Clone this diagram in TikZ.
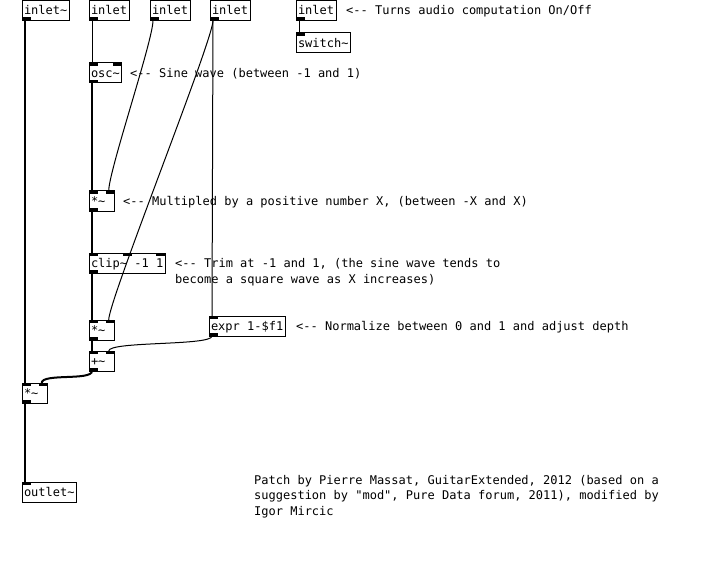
\documentclass[tikz,border=0pt]{standalone}
\usepackage{fontspec}
\setmonofont{DejaVu Sans Mono}

\begin{document}
\begin{tikzpicture}[x=1pt,y=-1pt,
	obj/.style={draw, line width=1pt, anchor=north west, minimum height=20pt,
		inner xsep=2pt, inner ysep=0pt, outer sep=0pt, text height=10.5pt, text depth=1.5pt,
		font=\ttfamily\fontsize{12}{16}\selectfont},
	tinyobj/.style={obj, text width=21.7pt},
	note/.style={anchor=north west, inner sep=0pt, align=left,
		font=\ttfamily\fontsize{12}{16}\selectfont},
	sig/.style={line width=2pt},
	ctl/.style={line width=1pt},
	iolet/.style={fill=black}]

	\fill[white] (0,0) rectangle (726,567);
	\useasboundingbox (0,0) rectangle (726,567);

	% objects
	\node[obj] (inA) at (22,0.5) {inlet\textasciitilde};
	\node[obj] (inB) at (89,0.5) {inlet};
	\node[obj] (inC) at (150,0.5) {inlet};
	\node[obj] (inD) at (210,0.5) {inlet};
	\node[obj] (inE) at (296,0.5) {inlet};
	\node[obj] (sw) at (296,33) {switch\textasciitilde};
	\node[obj] (osc) at (89,63) {osc\textasciitilde};
	\node[tinyobj] (mulA) at (89,191) {*\textasciitilde};
	\node[obj] (clip) at (89,253) {clip\textasciitilde{} -1 1};
	\node[tinyobj] (mulB) at (89,320) {*\textasciitilde};
	\node[obj] (expr) at (209,316) {expr 1-\$f1};
	\node[tinyobj] (plus) at (89,351) {+\textasciitilde};
	\node[tinyobj] (mulC) at (22,383) {*\textasciitilde};
	\node[obj] (out) at (22,482) {outlet\textasciitilde};

	% inlets and outlets
	\foreach \n in {sw,osc,mulA,clip,mulB,expr,plus,mulC,out}
		\fill[iolet] (\n.north west) rectangle +(9,3);
	\foreach \n in {osc,mulA,clip,mulB,plus,mulC}
		\fill[iolet] (\n.north east) rectangle +(-9,3);
	\fill[iolet] ([xshift=-4.5pt]clip.north) rectangle +(9,3);
	\foreach \n in {inA,inB,inC,inD,inE,osc,mulA,clip,mulB,expr,plus,mulC}
		\fill[iolet] (\n.south west) rectangle +(9,-3);

	% cords
	\draw[sig] ([xshift=3pt]inA.south west) -- ([xshift=3pt]mulC.north west);
	\draw[sig] ([xshift=3pt]mulC.south west) -- ([xshift=3pt]out.north west);
	\draw[sig] ([xshift=3pt]osc.south west) -- ([xshift=3pt]mulA.north west);
	\draw[sig] ([xshift=3pt]mulA.south west) -- ([xshift=3pt]clip.north west);
	\draw[sig] ([xshift=3pt]clip.south west) -- ([xshift=3pt]mulB.north west);
	\draw[sig] ([xshift=3pt]mulB.south west) -- ([xshift=3pt]plus.north west);
	\draw[sig] ([xshift=3pt]plus.south west) .. controls +(0,10) and +(0,-10) .. ([xshift=-6pt]mulC.north east);
	\draw[ctl] ([xshift=3pt]inB.south west) -- ([xshift=3pt]osc.north west);
	\draw[ctl] ([xshift=3pt]inE.south west) -- ([xshift=3pt]sw.north west);
	\draw[ctl] ([xshift=3pt]inD.south west) -- ([xshift=3pt]expr.north west);
	\draw[ctl] ([xshift=3pt]inC.south west) .. controls +(0,20) and +(0,-20) .. ([xshift=-6pt]mulA.north east);
	\draw[ctl] ([xshift=3pt]inD.south west) .. controls +(0,20) and +(0,-20) .. ([xshift=-6pt]mulB.north east);
	\draw[ctl] ([xshift=3pt]expr.south west) .. controls +(0,10) and +(0,-10) .. ([xshift=-6pt]plus.north east);

	% comments
	\node[note] (cmtE) at (346,5.4) {<-{}- Turns audio computation On/Off};
	\node[note] (cmtOsc) at (130,68.4) {<-{}- Sine wave (between -1 and 1)};
	\node[note] (cmtMul) at (123,196.4) {<-{}- Multipled by a positive number X, (between -X and X)};
	\node[note] (cmtClip) at (175,258.4) {<-{}- Trim at -1 and 1, (the sine wave tends to\\become a square wave as X increases)};
	\node[note] (cmtExpr) at (296,321.4) {<-{}- Normalize between 0 and 1 and adjust depth};
	\node[note, font=\ttfamily\fontsize{12}{15.5}\selectfont] (credits) at (254,474.9)
		{Patch by Pierre Massat, GuitarExtended, 2012 (based on a\\suggestion by "mod", Pure Data forum, 2011), modified by\\Igor Mircic};

\end{tikzpicture}
\end{document}
